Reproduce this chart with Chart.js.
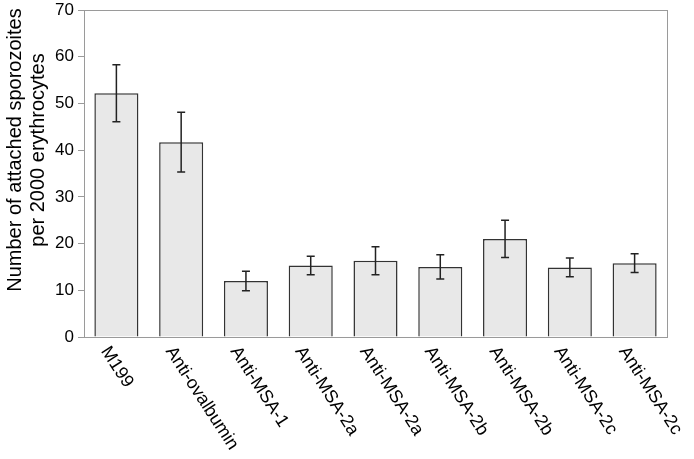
<!DOCTYPE html>
<html>
<head>
<meta charset="utf-8">
<script src="https://cdn.jsdelivr.net/npm/chart.js@4"></script>
<style>
  html, body { margin: 0; padding: 0; background: #fff; }
  #wrap { width: 694px; height: 459px; }
</style>
</head>
<body>
<div id="wrap"><canvas id="grafico"></canvas></div>
<script>
const categorias = ['M199', 'Anti-ovalbumin', 'Anti-MSA-1', 'Anti-MSA-2a', 'Anti-MSA-2a',
  'Anti-MSA-2b', 'Anti-MSA-2b', 'Anti-MSA-2c', 'Anti-MSA-2c'];
const valores = [52.2, 41.7, 12.0, 15.3, 16.3, 15.0, 21.0, 14.9, 15.8];
const erros = [6.1, 6.4, 2.1, 2.0, 3.0, 2.6, 4.0, 2.0, 2.0];
const ticksY = [0, 10, 20, 30, 40, 50, 60, 70];
const tituloY = ['Number of attached sporozoites', 'per 2000 erythrocytes'];

const fonte = "'Liberation Sans', Arial, sans-serif";

// error bars, box, y title and rotated category labels
const extras = {
  id: 'extras',
  afterDatasetsDraw(chart) {
    const c = chart.ctx;
    const y = chart.scales.y;
    const meta = chart.getDatasetMeta(0);
    c.save();
    c.strokeStyle = '#222';
    c.lineWidth = 1.5;
    meta.data.forEach((bar, i) => {
      const top = y.getPixelForValue(valores[i] + erros[i]);
      const bot = y.getPixelForValue(valores[i] - erros[i]);
      c.beginPath();
      c.moveTo(bar.x, top); c.lineTo(bar.x, bot);
      c.moveTo(bar.x - 4, top); c.lineTo(bar.x + 4, top);
      c.moveTo(bar.x - 4, bot); c.lineTo(bar.x + 4, bot);
      c.stroke();
    });
    const a = chart.chartArea;
    c.strokeStyle = '#9a9a9a';
    c.lineWidth = 1;
    c.strokeRect(a.left + 0.5, a.top + 0.5, a.right - a.left, a.bottom - a.top);

    c.fillStyle = '#000';
    // y title
    c.save();
    c.translate(15, 150);
    c.rotate(-Math.PI / 2);
    c.font = '20px ' + fonte;
    c.textAlign = 'center';
    c.textBaseline = 'middle';
    c.fillText(tituloY[0], 0, 0);
    c.fillText(tituloY[1], 0, 23);
    c.restore();

    // category labels
    c.font = '18px ' + fonte;
    c.textAlign = 'left';
    c.textBaseline = 'alphabetic';
    meta.data.forEach((bar, i) => {
      c.save();
      c.translate(bar.x - 16, a.bottom + 14);
      c.rotate(57 * Math.PI / 180);
      c.fillText(categorias[i], 0, 0);
      c.restore();
    });
    c.restore();
  }
};

new Chart(document.getElementById('grafico'), {
  type: 'bar',
  data: {
    labels: categorias,
    datasets: [{
      data: valores,
      backgroundColor: '#e8e8e8',
      borderColor: '#333',
      borderWidth: 1.5,
      barPercentage: 0.68,
      categoryPercentage: 1
    }]
  },
  options: {
    responsive: true,
    maintainAspectRatio: false,
    animation: false,
    layout: { padding: { top: 10, right: 27, left: 0, bottom: 0 } },
    plugins: { legend: { display: false }, tooltip: { enabled: false } },
    scales: {
      x: {
        grid: { display: false },
        border: { display: false },
        ticks: { display: false },
        afterFit: s => { s.height = 122; }
      },
      y: {
        min: 0,
        max: 70,
        afterBuildTicks: s => { s.ticks = ticksY.map(v => ({ value: v })); },
        grid: { drawOnChartArea: false, drawTicks: true, tickLength: 6, color: '#9a9a9a' },
        border: { display: false },
        ticks: { color: '#000', padding: 4, font: { family: fonte, size: 17 } },
        afterFit: s => { s.width = 84; s.paddingTop = 0; s.paddingBottom = 0; }
      }
    }
  },
  plugins: [extras]
});
</script>
</body>
</html>
